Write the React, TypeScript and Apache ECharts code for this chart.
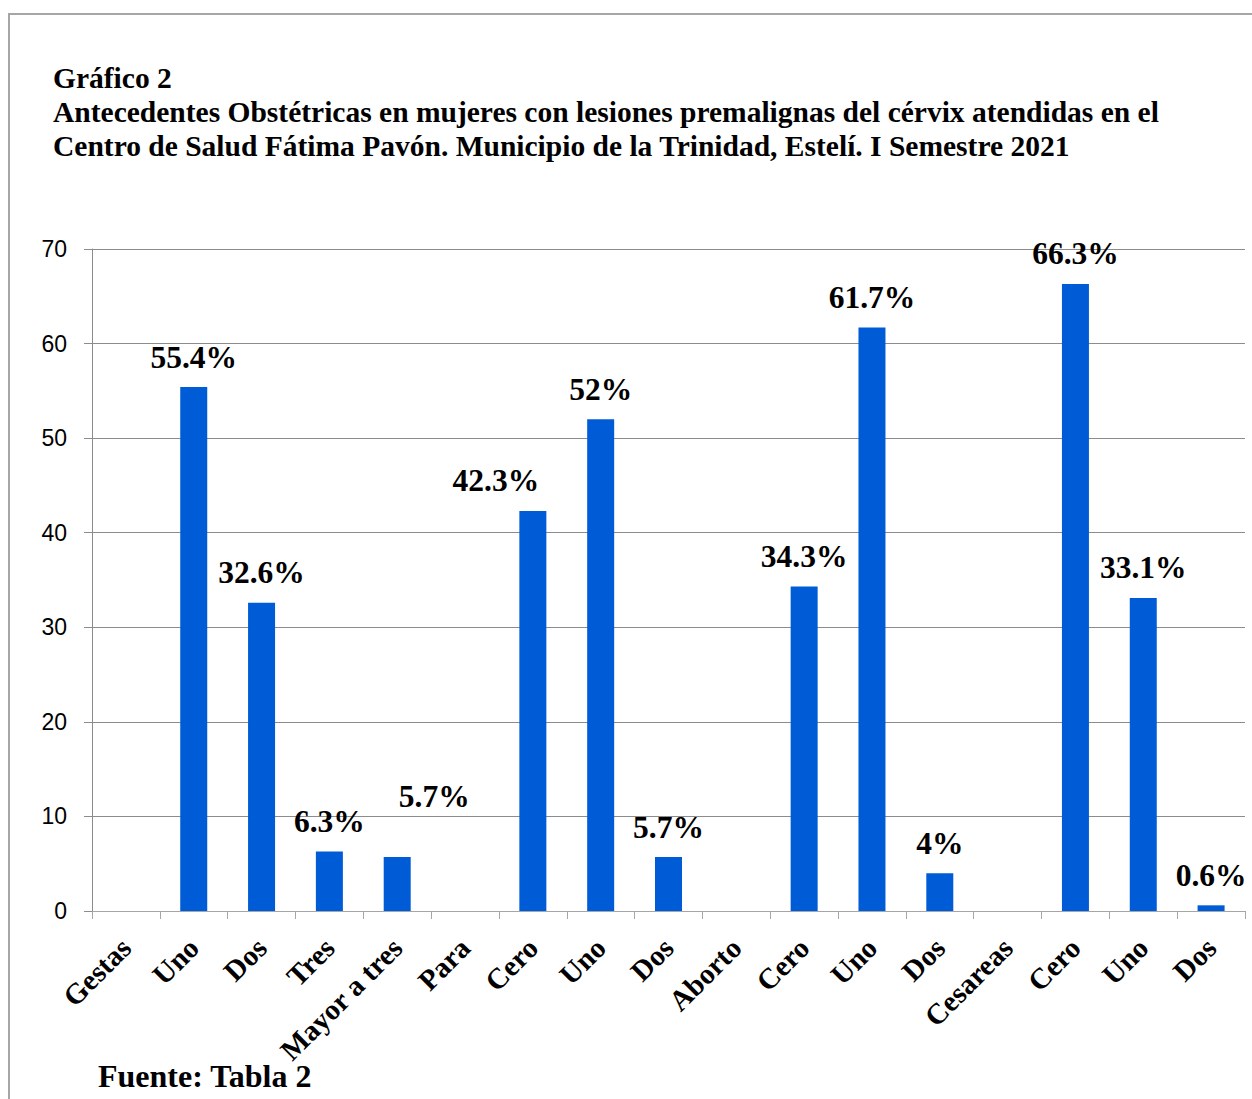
import React, { useEffect, useRef } from "react";
import * as echarts from "echarts";

const categories = [
  "Gestas", "Uno", "Dos", "Tres", "Mayor a tres",
  "Para", "Cero", "Uno", "Dos",
  "Aborto", "Cero", "Uno", "Dos",
  "Cesareas", "Cero", "Uno", "Dos",
];
const values: (number | null)[] = [
  null, 55.4, 32.6, 6.3, 5.7,
  null, 42.3, 52, 5.7,
  null, 34.3, 61.7, 4,
  null, 66.3, 33.1, 0.6,
];
const yTicks = { min: 0, max: 70, interval: 10 };
const titleLines = [
  "Gráfico 2",
  "Antecedentes Obstétricas en mujeres con lesiones premalignas del cérvix atendidas en el",
  "Centro de Salud Fátima Pavón. Municipio de la Trinidad, Estelí. I Semestre 2021",
];
const sourceText = "Fuente: Tabla 2";
// label offsets for the two labels moved by hand in the original
const labelOffsets: Record<number, [number, number]> = { 4: [37, -31], 6: [-37, 0] };

const SERIF = "'Liberation Serif', 'Times New Roman', serif";

export default function App() {
  const ref = useRef<HTMLDivElement>(null);
  useEffect(() => {
    document.body.style.margin = "0";
    const chart = echarts.init(ref.current!, undefined, { renderer: "svg" });
    const data = values.map((v, i) =>
      v === null
        ? null
        : labelOffsets[i]
        ? { value: v, label: { offset: labelOffsets[i] } }
        : v
    );
    chart.setOption({
      animation: false,
      backgroundColor: "#ffffff",
      title: {
        text: titleLines.join("\n"),
        left: 48,
        top: 56,
        padding: 5,
        textStyle: {
          fontFamily: SERIF,
          fontWeight: "bold",
          fontSize: 29.5,
          lineHeight: 34,
          color: "#000",
        },
      },
      graphic: [
        {
          type: "rect",
          shape: { x: 9, y: 14, width: 1400, height: 1300 },
          style: { fill: "none", stroke: "#a6a6a6", lineWidth: 2 },
          silent: true,
        },
        {
          type: "text",
          x: 98,
          y: 1076,
          style: {
            text: sourceText,
            font: `bold 32px ${SERIF}`,
            fill: "#000",
            textVerticalAlign: "middle",
          },
        },
      ],
      grid: { left: 92, right: 7, top: 249, bottom: 188, containLabel: false },
      xAxis: {
        type: "category",
        data: categories,
        boundaryGap: true,
        axisLine: { lineStyle: { color: "#a6a6a6", width: 1 } },
        axisTick: { show: true, length: 8, lineStyle: { color: "#a6a6a6" } },
        axisLabel: {
          rotate: 45,
          interval: 0,
          margin: 32,
          fontFamily: SERIF,
          fontWeight: "bold",
          fontSize: 29,
          color: "#000",
        },
      },
      yAxis: {
        type: "value",
        min: yTicks.min,
        max: yTicks.max,
        interval: yTicks.interval,
        axisLine: { show: true, lineStyle: { color: "#8c8c8c" } },
        axisTick: { show: true, length: 8, lineStyle: { color: "#8c8c8c" } },
        splitLine: { lineStyle: { color: "#8c8c8c", width: 1 } },
        axisLabel: {
          margin: 25,
          fontFamily: "'Liberation Sans', Arial, sans-serif",
          fontSize: 23,
          color: "#000",
        },
      },
      series: [
        {
          type: "bar",
          data,
          barWidth: 27,
          itemStyle: { color: "#005CD6" },
          label: {
            show: true,
            position: "top",
            distance: 14,
            formatter: (p: any) => `${p.value}%`,
            fontFamily: SERIF,
            fontWeight: "bold",
            fontSize: 31.5,
            color: "#000",
          },
        },
      ],
    });
    return () => chart.dispose();
  }, []);
  return <div ref={ref} style={{ width: 1252, height: 1099 }} />;
}
